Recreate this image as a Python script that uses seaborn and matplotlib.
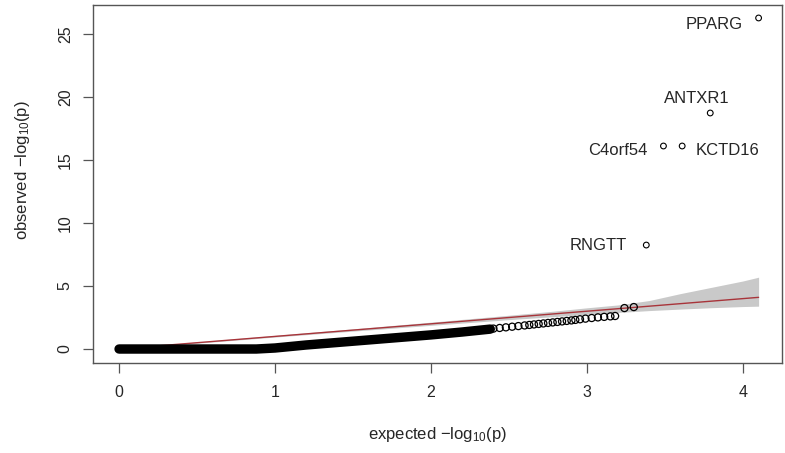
import matplotlib
matplotlib.use('Agg')
import matplotlib.pyplot as plt
import seaborn as sns

# ---- data ----
# confidence band (expected vs bounds)
band_x = [0.0, 0.5, 1.0, 1.5, 2.0, 2.5, 2.8, 3.0, 3.2, 3.4, 3.6, 3.8, 4.0, 4.10]
band_hi = [0.03, 0.56, 1.08, 1.6, 2.13, 2.68, 3.02, 3.27, 3.5, 3.85, 4.4, 4.9, 5.4, 5.7]
band_lo = [0.0, 0.46, 0.95, 1.42, 1.88, 2.33, 2.58, 2.75, 2.9, 3.05, 3.17, 3.28, 3.37, 3.4]

# y = x reference line
line_x = [0.0, 4.10]
line_y = [0.0, 4.10]

# dense bulk of genes (thousands of overlapping points, traced as a band)
bulk_x = [0.0, 0.5, 0.88, 1.0, 1.2, 1.4, 1.6, 1.8, 2.0, 2.2, 2.38]
bulk_y = [0.0, 0.0, 0.0, 0.08, 0.32, 0.52, 0.72, 0.92, 1.12, 1.35, 1.58]

# individually visible points in the upper tail
tail_x = [2.40, 2.44, 2.48, 2.52, 2.56, 2.60, 2.63, 2.66, 2.69, 2.72, 2.75, 2.78,
          2.81, 2.84, 2.87, 2.90, 2.925, 2.955, 2.99, 3.03, 3.07, 3.11, 3.15, 3.18,
          3.24, 3.30]
tail_y = [1.62, 1.67, 1.72, 1.77, 1.82, 1.87, 1.91, 1.95, 1.99, 2.03, 2.07, 2.11,
          2.15, 2.19, 2.23, 2.27, 2.31, 2.36, 2.41, 2.46, 2.51, 2.55, 2.59, 2.62,
          3.25, 3.33]

# labelled top genes
genes = ['PPARG', 'ANTXR1', 'KCTD16', 'C4orf54', 'RNGTT']
gene_x = [4.10, 3.79, 3.61, 3.49, 3.38]
gene_y = [26.27, 18.73, 16.11, 16.11, 8.25]

x_ticks = [0, 1, 2, 3, 4]
y_ticks = [0, 5, 10, 15, 20, 25]

# ---- style ----
sns.set_style('ticks')
plt.rcParams['font.family'] = ['Liberation Sans', 'DejaVu Sans']
plt.rcParams['mathtext.default'] = 'regular'

fig = plt.figure(figsize=(7.85, 4.53), dpi=100)
ax = fig.add_axes([93 / 785, 90 / 453, 689 / 785, 358 / 453])

txt = '#262626'
edge = '#555555'

ax.fill_between(band_x, band_lo, band_hi, color='#c9c9c9', lw=0, zorder=1)
sns.lineplot(x=line_x, y=line_y, color='#a8343a', lw=1.0, ax=ax, zorder=2)
sns.lineplot(x=bulk_x, y=bulk_y, color='black', lw=6.8, ax=ax, sort=False,
             estimator=None, solid_capstyle='round', zorder=3)
sns.scatterplot(x=tail_x, y=tail_y, marker='o', s=26, facecolors='none',
                edgecolors='black', linewidths=0.9, ax=ax, zorder=4)
sns.scatterplot(x=gene_x, y=gene_y, marker='o', s=17, facecolors='none',
                edgecolors='black', linewidths=0.8, ax=ax, zorder=4)

offsets = {
    'PPARG': ((-11.5, -4.5), 'right'),
    'ANTXR1': ((-10, 10.5), 'center'),
    'KCTD16': ((10, -3), 'left'),
    'C4orf54': ((-11.5, -3), 'right'),
    'RNGTT': ((-14, 0), 'right'),
}
for g, gx, gy in zip(genes, gene_x, gene_y):
    off, ha = offsets[g]
    ax.annotate(g, (gx, gy), xytext=off, textcoords='offset points',
                ha=ha, va='center', fontsize=12, color=txt)

ax.set_xlim(-0.167, 4.25)
ax.set_ylim(-1.11, 27.3)
ax.set_xticks(x_ticks)
ax.set_yticks(y_ticks)

ax.tick_params(axis='both', direction='out', length=7, width=0.9, color=edge,
               labelsize=11.5, labelcolor=txt)
ax.tick_params(axis='x', pad=8.5)
ax.tick_params(axis='y', pad=7.5)
plt.setp(ax.get_yticklabels(), rotation=90, va='center')

for sp in ax.spines.values():
    sp.set_visible(True)
    sp.set_color(edge)
    sp.set_linewidth(1.0)

ax.set_xlabel(r'expected $-log_{10}(p)$', fontsize=12, color=txt)
ax.set_ylabel(r'observed $-log_{10}(p)$', fontsize=12, color=txt)
ax.xaxis.set_label_coords(0.5, -0.201)
ax.yaxis.set_label_coords(-0.103, 0.54)
ax.xaxis.label.set_va('center')
ax.yaxis.label.set_va('center')

fig.savefig('out.png', dpi=100, facecolor='white')
